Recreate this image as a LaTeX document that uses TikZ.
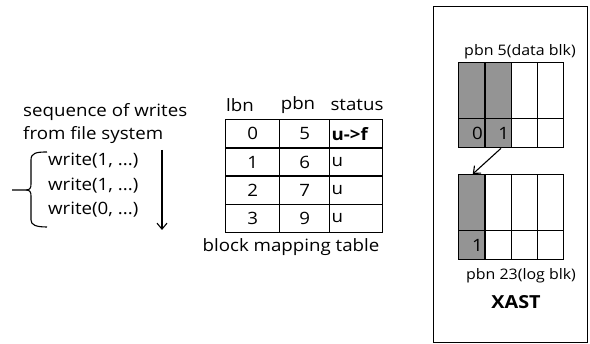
\documentclass[tikz,border=0pt]{standalone}
\usepackage{fontspec}
\setmainfont[FakeStretch=1.1]{Open Sans}
\usetikzlibrary{arrows.meta}
\begin{document}
\begin{tikzpicture}[x=1pt,y=-1pt,
  font=\fontsize{17}{19}\selectfont,
  txt/.style={inner sep=0pt},
  capt/.style={txt, font=\fontsize{14.5}{16}\selectfont},
  grid/.style={draw, line width=1.3pt},
  tcell/.style={grid, anchor=north west, inner sep=0pt, minimum height=28.25pt},
  bcell/.style={grid, anchor=north west, inner sep=0pt, minimum width=26.25pt},
  topcell/.style={bcell, minimum height=56pt},
  botcell/.style={bcell, minimum height=29pt, text width=22pt, align=right},
  shade/.style={fill=black!42},
  arr/.style={-{Straight Barb[length=6pt,width=10pt,line width=1.1pt]}, line width=1.1pt}]
\useasboundingbox (0,0) rectangle (590,344);

% --- writes issued by the file system
\node[txt, anchor=west] (seq1) at (23,112) {sequence of writes};
\node[txt, anchor=west] (seq2) at (23,135) {from file system};
\node[txt, anchor=west] (w1) at (48,161) {write(1, ...)};
\node[txt, anchor=west] (w2) at (48,186) {write(1, ...)};
\node[txt, anchor=west] (w3) at (48,210) {write(0, ...)};
\coordinate (btop) at (47,152);
\coordinate (bbot) at (47,227);
\coordinate (btip) at (12,190);
\draw[line width=1.1pt] (btop) .. controls (36,152) and (31,153) .. (31,160)
  -- (31,184) .. controls (31,188) and (30,190) .. (26,190) -- (btip);
\draw[line width=1.1pt] (26,190) .. controls (30,190) and (31,192) .. (31,196)
  -- (31,220) .. controls (31,225) and (36,227) .. (bbot);
\coordinate (tstart) at (162,150);
\coordinate (tend) at (162,230);
\draw[arr] (tstart) -- (tend);

% --- block mapping table
\node[txt] (hl) at (240,105) {lbn};
\node[txt] (hp) at (298,105) {pbn};
\node[txt] (hs) at (357,105) {status};
\foreach \l/\p/\s [count=\i from 0] in {0/5/\textbf{u->f},1/6/u,2/7/u,3/9/u}{
  \node[tcell, minimum width=54pt] (l\i) at (225,119+28.25*\i) {\l};
  \node[tcell, minimum width=50pt] (p\i) at (279,119+28.25*\i) {\p};
  \node[tcell, minimum width=53pt, text width=49pt, align=left] (s\i) at (329,119+28.25*\i) {\s};
}
\node[txt] (tcap) at (291,247) {block mapping table};

% --- XAST: data block and log block
\node[grid, line width=1.1pt, anchor=north west, minimum width=154pt, minimum height=336pt, inner sep=0pt] (xast) at (433,6) {};
\node[capt] (dcap) at (520,52) {pbn 5(data blk)};

\node[topcell, shade] (dt1) at (458,62) {};
\node[topcell, shade] (dt2) at (484.25,62) {};
\node[topcell] (dt3) at (510.5,62) {};
\node[topcell] (dt4) at (536.75,62) {};
\node[botcell, shade] (db1) at (458,118) {0};
\node[botcell, shade] (db2) at (484.25,118) {1};
\node[botcell] (db3) at (510.5,118) {};
\node[botcell] (db4) at (536.75,118) {};

\node[topcell, shade] (lt1) at (458,174) {};
\node[topcell] (lt2) at (484.25,174) {};
\node[topcell] (lt3) at (510.5,174) {};
\node[topcell] (lt4) at (536.75,174) {};
\node[botcell, shade] (lb1) at (458,230) {1};
\node[botcell] (lb2) at (484.25,230) {};
\node[botcell] (lb3) at (510.5,230) {};
\node[botcell] (lb4) at (536.75,230) {};

\draw[arr] ([xshift=3pt]db2.south) -- ([xshift=1pt]lt1.north);

\node[capt] (lcap) at (521,276) {pbn 23(log blk)};
\node[txt, font=\fontsize{18}{20}\selectfont\bfseries] (xname) at (516,302) {XAST};
\end{tikzpicture}
\end{document}
